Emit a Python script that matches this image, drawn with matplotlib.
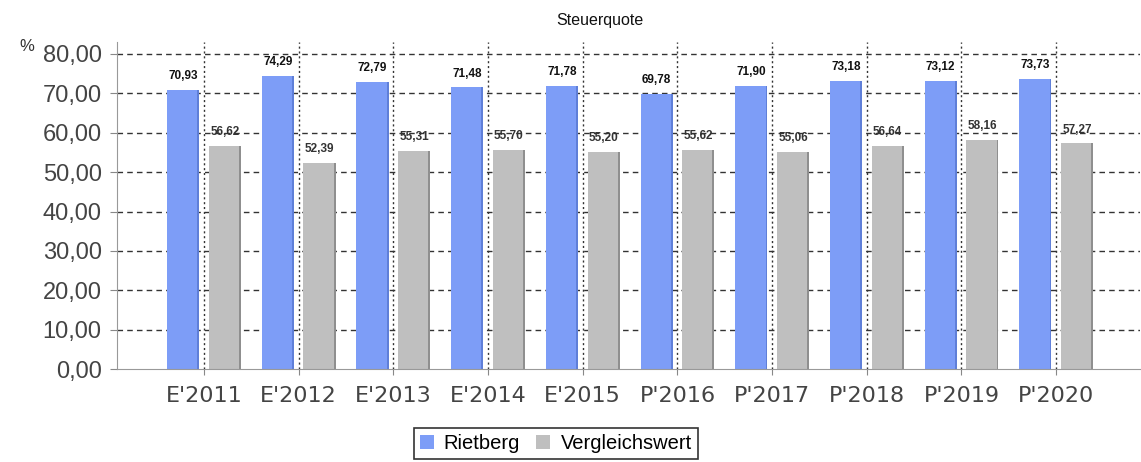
import numpy as np
import matplotlib.pyplot as plt

# Chart data
years = ["E'2011", "E'2012", "E'2013", "E'2014", "E'2015",
         "P'2016", "P'2017", "P'2018", "P'2019", "P'2020"]
rietberg = [70.93, 74.29, 72.79, 71.48, 71.78, 69.78, 71.90, 73.18, 73.12, 73.73]
vergleich = [56.62, 52.39, 55.31, 55.70, 55.20, 55.62, 55.06, 56.64, 58.16, 57.27]
yticks = [0, 10, 20, 30, 40, 50, 60, 70, 80]


def fmt(v):
    return f"{v:.2f}".replace('.', ',')


fig = plt.figure(figsize=(11.41, 4.62), dpi=100)
ax = fig.add_axes([0.1025, 0.201, 0.897, 0.708])

x = np.arange(len(years))
w = 0.34
off = 0.22

blue = '#7d9df7'
grey = '#bfbfbf'

b1 = ax.bar(x - off, rietberg, w, color=blue, zorder=2, label='Rietberg')
b2 = ax.bar(x + off, vergleich, w, color=grey, zorder=2, label='Vergleichswert')
# darker right edge for a slight 3D look
ax.bar(x - off + w / 2 - 0.01, rietberg, 0.02, color='#5f7fd8', zorder=2)
ax.bar(x + off + w / 2 - 0.01, vergleich, 0.02, color='#8f8f8f', zorder=2)

for xi, v in zip(x, rietberg):
    ax.text(xi - off, v + 2.0, fmt(v), ha='center', va='bottom',
            fontsize=8.5, fontweight='bold', color='#111111', family='Liberation Sans')
for xi, v in zip(x, vergleich):
    ax.text(xi + off, v + 2.0, fmt(v), ha='center', va='bottom',
            fontsize=8.5, fontweight='bold', color='#333333', family='Liberation Sans')

ax.set_xlim(-0.92, 9.89)
ax.set_ylim(0, 83)
ax.set_yticks(yticks)
ax.set_yticklabels([fmt(t) for t in yticks], fontsize=17, color='#444444',
                   family='Liberation Sans')
ax.set_xticks(x)
ax.set_xticklabels(years, fontsize=16, color='#444444', family='DejaVu Sans')

for t in yticks[1:]:
    ax.axhline(t, color='#333333', lw=1, ls=(0, (4, 3)), zorder=1)
for xi in x:
    ax.axvline(xi, color='#333333', lw=1, ls=(0, (1.5, 2)), zorder=3)

ax.tick_params(axis='y', length=5, color='#888888', pad=6)
ax.tick_params(axis='x', length=4, color='#888888', pad=8)
for s in ['top', 'right']:
    ax.spines[s].set_visible(False)
ax.spines['left'].set_color('#999999')
ax.spines['bottom'].set_color('#999999')

fig.text(0.526, 0.955, 'Steuerquote', ha='center', va='center',
         fontsize=11.5, family='Liberation Sans', color='#111111')
fig.text(0.017, 0.9, '%', ha='left', va='center', fontsize=12,
         family='Liberation Sans', color='#333333')

leg = fig.legend(handles=[b1, b2], loc='upper center', bbox_to_anchor=(0.487, 0.095),
                 ncol=2, frameon=True, fancybox=False,
                 prop={'family': 'Liberation Sans', 'size': 14.5},
                 handlelength=0.7, handleheight=0.7, handletextpad=0.5,
                 columnspacing=0.8, borderpad=0.3)
leg.get_frame().set_edgecolor('black')
leg.get_frame().set_linewidth(1.2)

fig.savefig('out.png', dpi=100)
